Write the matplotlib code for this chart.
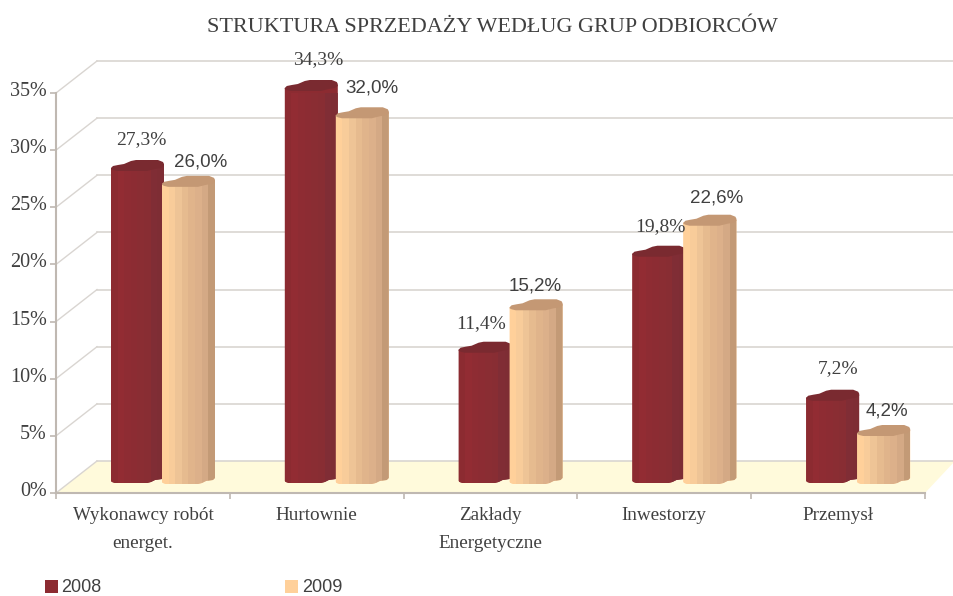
import matplotlib
matplotlib.use("Agg")
import matplotlib.pyplot as plt
from matplotlib.patches import Polygon, Rectangle, Patch
from matplotlib.transforms import ScaledTranslation

categories = ["Wykonawcy robót\nenerget.", "Hurtownie", "Zakłady\nEnergetyczne", "Inwestorzy", "Przemysł"]
values_2008 = [27.3, 34.3, 11.4, 19.8, 7.2]
values_2009 = [26.0, 32.0, 15.2, 22.6, 4.2]
y_ticks = [0, 5, 10, 15, 20, 25, 30, 35]

# label nudges in pixels (dx, dy from bar front top)
nudge_2008 = [(30, 31), (33, 31), (22, 29), (28, 30), (32, 32)]
nudge_2009 = [(39, 25), (36, 30), (26, 24), (33, 28), (30, 25)]

strips_2008 = ["#8c2b31", "#922c33", "#8e2c33", "#8c2c33", "#8a2d33", "#882d33", "#802d35", "#7e2d34"]
strips_2009 = ["#ffd09a", "#f8cc9a", "#eec496", "#e6bb8f", "#e0b48b", "#dcb08a", "#d4a985", "#c39a76"]
cap_2008 = "#7a2a30"
cap_2009 = "#c49874"
grid_col = "#d9d5d1"
axis_col = "#bfb8b1"
text_col = "#404040"

W, H = 954, 596
X_PX = 869 / 5      # pixels per category
Y_PX = 400 / 35     # pixels per percent
SERIF = "Liberation Serif"
SANS = "Liberation Sans"

fig = plt.figure(figsize=(W / 100, H / 100), dpi=100)
ax = fig.add_axes([56 / W, (H - 493) / H, 869 / W, 400 / H])
ax.set_xlim(0, 5)
ax.set_ylim(0, 35)
ax.patch.set_alpha(0)


def px(dx, dy):
    return dx / X_PX, dy / Y_PX


# floor and back wall of the fake 3d box
depth_x, depth_y = px(41, 32)
ax.add_patch(Polygon([(0, 0), (depth_x, depth_y), (5 + 30 / X_PX, depth_y), (5, 0)],
                     closed=True, fc="#fffadb", ec="none", clip_on=False, zorder=1))
for t in y_ticks:
    ax.plot([depth_x, 5 + 30 / X_PX], [t + depth_y, t + depth_y], color=grid_col, lw=1.2, clip_on=False, zorder=1.5)
    ax.plot([0, depth_x], [t, t + depth_y], color=grid_col, lw=1.0, clip_on=False, zorder=1.5)


def draw_bar(cat, series, value, strips, cap):
    x0 = cat + (55 + 51 * series) / X_PX
    y0 = 10 / Y_PX if series == 0 else 9 / Y_PX
    top = value * Y_PX

    def pts(seq):
        return [(x0 + a / X_PX, y0 + b / Y_PX) for a, b in seq]

    body = Polygon(pts([(0, 2), (1, 1), (4, 0), (36, 0), (40, 1), (44, 3), (51, 4), (53, 6),
                        (53, top + 6), (0, top + 3)]),
                   closed=True, fc=strips[0], ec="none", clip_on=False, zorder=3 + series)
    ax.add_patch(body)
    n = len(strips)
    for k, col in enumerate(strips):
        a = 53 * k / n
        r = Rectangle((x0 + a / X_PX, y0), 54 / n / X_PX, (top + 8) / Y_PX, fc=col, ec="none",
                      antialiased=False, clip_on=True, zorder=3 + series)
        ax.add_patch(r)
        r.set_clip_path(body)
    ax.add_patch(Polygon(pts([(0, top + 2), (0, top + 3), (2, top + 5), (7, top + 6), (13, top + 7), (20, top + 10),
                              (25, top + 11), (47, top + 11), (52, top + 9), (53, top + 7), (53, top + 5),
                              (50, top + 3), (44, top + 2), (40, top + 1), (36, top), (6, top), (2, top + 1)]),
                         closed=True, fc=cap, ec="none", clip_on=False, zorder=3 + series))
    return x0, y0 + value


for i in range(len(categories)):
    x, y = draw_bar(i, 0, values_2008[i], strips_2008, cap_2008)
    ax.annotate(f"{values_2008[i]:.1f}%".replace(".", ","), (x, y),
                xytext=(nudge_2008[i][0] * 0.72, nudge_2008[i][1] * 0.72), textcoords="offset points",
                ha="center", va="center", family=SERIF, fontsize=14, color=text_col,
                annotation_clip=False, zorder=10)
    x, y = draw_bar(i, 1, values_2009[i], strips_2009, cap_2009)
    ax.annotate(f"{values_2009[i]:.1f}%".replace(".", ","), (x, y),
                xytext=(nudge_2009[i][0] * 0.72, nudge_2009[i][1] * 0.72), textcoords="offset points",
                ha="center", va="center", family=SANS, fontsize=13.5, color=text_col,
                annotation_clip=False, zorder=10)

# axes
for s in ["top", "right"]:
    ax.spines[s].set_visible(False)
for s in ["left", "bottom"]:
    ax.spines[s].set_color(axis_col)
    ax.spines[s].set_linewidth(1.5)
    ax.spines[s].set_zorder(2)
ax.set_yticks(y_ticks)
ax.set_yticklabels([f"{t}%" for t in y_ticks], family=SERIF, fontsize=14.5, color=text_col)
ax.tick_params(axis="y", length=4.5, width=1.2, color=axis_col, pad=2)
# tick labels sit a little above their ticks in the original
shift_up = ScaledTranslation(0, 4 / 100, fig.dpi_scale_trans)
for lab in ax.get_yticklabels():
    lab.set_transform(lab.get_transform() + shift_up)
ax.set_xticks(range(6))
ax.set_xticklabels([])
ax.tick_params(axis="x", which="major", length=4.5, width=1.2, color=axis_col)
ax.set_xticks([i + 0.5 for i in range(5)], minor=True)
ax.set_xticklabels(categories, minor=True, family=SERIF, fontsize=13.8, color=text_col, linespacing=1.85)
ax.tick_params(axis="x", which="minor", length=0, pad=10)

fig.text(492 / W, 1 - 27 / H, "STRUKTURA SPRZEDAŻY WEDŁUG GRUP ODBIORCÓW", ha="center", va="center",
         family=SERIF, fontsize=15.9, color=text_col)

handles = [Patch(fc=strips_2008[0], ec="none", label="2008"), Patch(fc=strips_2009[0], ec="none", label="2009")]
leg = fig.legend(handles=handles, ncol=2, loc="center left", bbox_to_anchor=(45 / W, 1 - 588 / H), frameon=False,
                 borderaxespad=0, borderpad=0, handlelength=0.72, handleheight=0.72, handletextpad=0.2,
                 columnspacing=10.15, prop={"family": SANS, "size": 13})
for t in leg.get_texts():
    t.set_color(text_col)

fig.savefig("out.png", dpi=100)
